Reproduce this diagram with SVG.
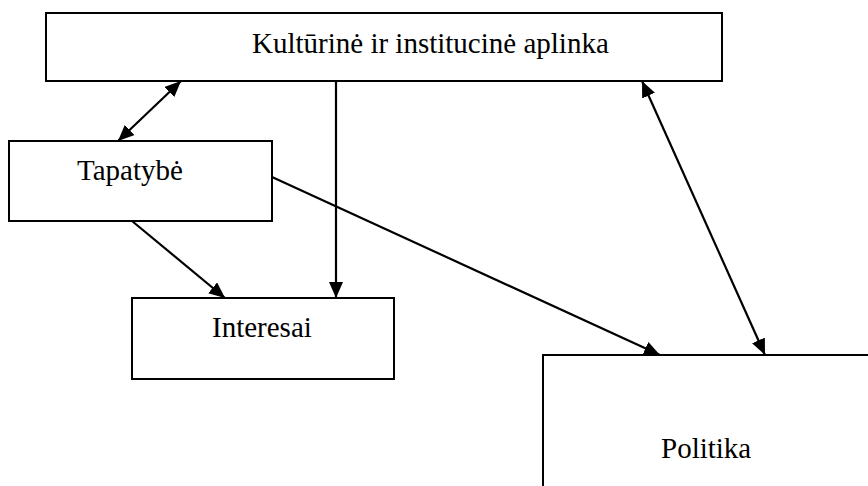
<svg xmlns="http://www.w3.org/2000/svg" width="868" height="486" viewBox="0 0 868 486">
<style>
.box{fill:#fff;stroke:#000;stroke-width:2}
.lbl{font-family:"Liberation Serif","Times New Roman",serif;font-size:29px;fill:#000}
.con{stroke:#000;stroke-width:2.2;fill:none}
</style>
<defs>
<marker id="ah" markerUnits="userSpaceOnUse" markerWidth="17" markerHeight="15" refX="16" refY="7" orient="auto-start-reverse">
<path d="M0,0 L16,7 L0,14 z" fill="#000"/>
</marker>
</defs>
<rect width="868" height="486" fill="#fff"/>
<g id="kultura"><rect class="box" x="46" y="13" width="676" height="68"/><text class="lbl" x="252" y="53">Kultūrinė ir institucinė aplinka</text></g>
<g id="tapatybe"><rect class="box" x="9" y="141" width="263" height="80"/><text class="lbl" x="77" y="180">Tapatybė</text></g>
<g id="interesai"><rect class="box" x="132" y="298" width="262" height="81"/><text class="lbl" x="212" y="337">Interesai</text></g>
<g id="politika"><rect class="box" x="543" y="355" width="340" height="200"/><text class="lbl" x="661" y="458">Politika</text></g>
<g id="connectors">
<line class="con" x1="118" y1="141" x2="181" y2="81" marker-start="url(#ah)" marker-end="url(#ah)"/>
<line class="con" x1="336" y1="81" x2="336" y2="298" marker-end="url(#ah)"/>
<line class="con" x1="132" y1="221" x2="225" y2="298" marker-end="url(#ah)"/>
<line class="con" x1="272" y1="177" x2="660" y2="355" marker-end="url(#ah)"/>
<line class="con" x1="642" y1="81" x2="765" y2="355" marker-start="url(#ah)" marker-end="url(#ah)"/>
</g>
</svg>
